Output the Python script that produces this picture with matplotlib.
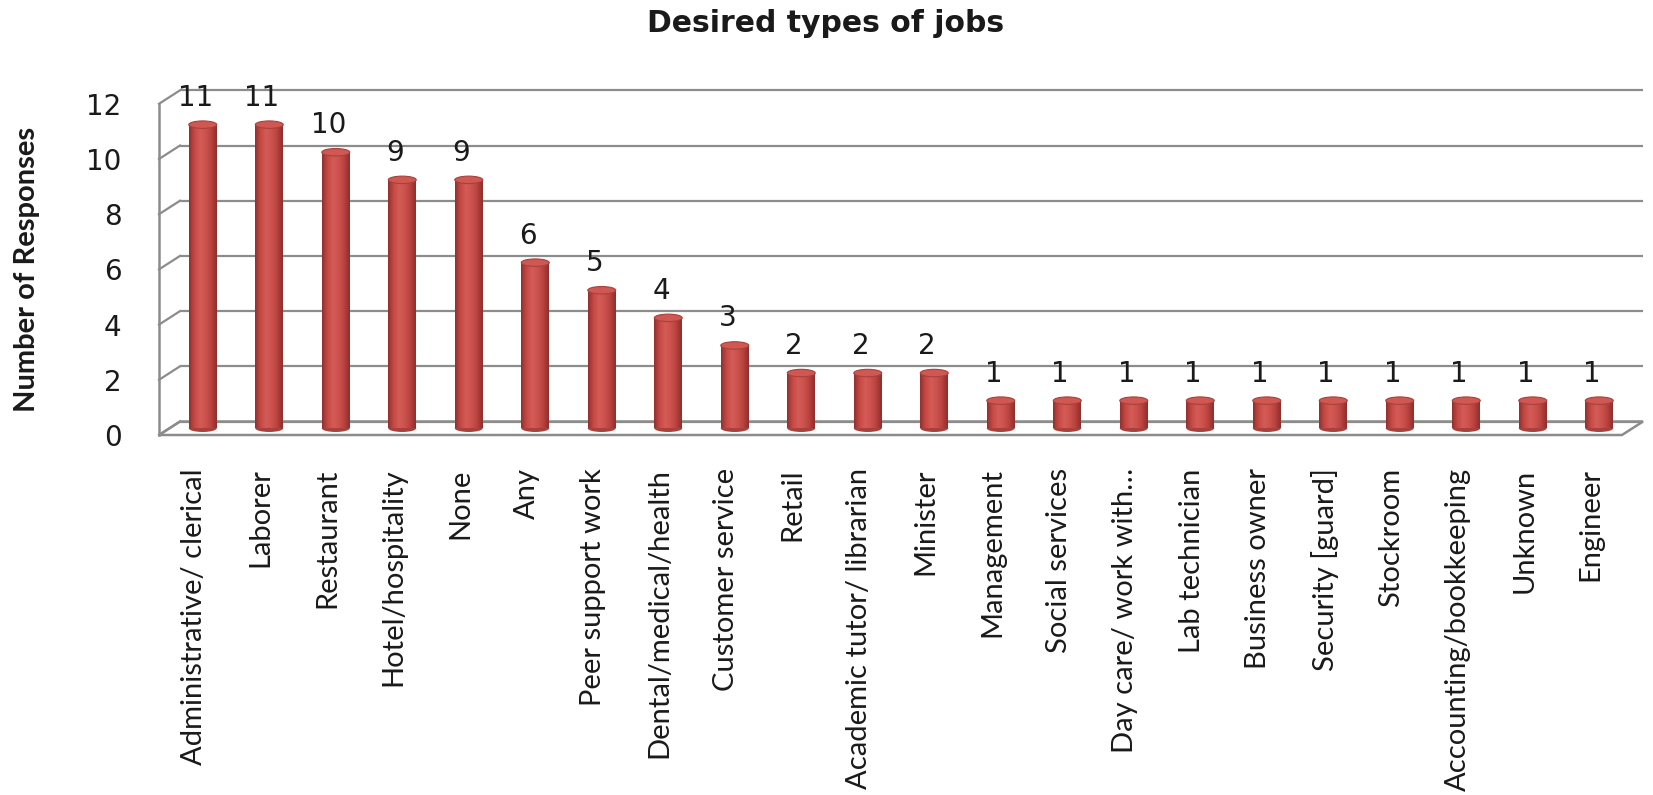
import matplotlib.pyplot as plt
import numpy as np
from matplotlib.colors import LinearSegmentedColormap
from matplotlib.patches import Ellipse, Polygon

# Data
jobs = ["Administrative/ clerical", "Laborer", "Restaurant", "Hotel/hospitality",
        "None", "Any", "Peer support work", "Dental/medical/health",
        "Customer service", "Retail", "Academic tutor/ librarian", "Minister",
        "Management", "Social services", "Day care/ work with\u2026",
        "Lab technician", "Business owner", "Security [guard]", "Stockroom",
        "Accounting/bookkeeping", "Unknown", "Engineer"]
responses = [11, 11, 10, 9, 9, 6, 5, 4, 3, 2, 2, 2, 1, 1, 1, 1, 1, 1, 1, 1, 1, 1]
y_ticks = [0, 2, 4, 6, 8, 10, 12]

W, H = 1653, 795
fig = plt.figure(figsize=(W / 100, H / 100), dpi=100)
# front plane of the 3-D box, in pixels
left, right, bottom, top = 159, 1622, 435, 103.8
ax = fig.add_axes([left / W, 1 - bottom / H, (right - left) / W, (bottom - top) / H])

n = len(jobs)
xmin, xmax = -0.5, n - 0.5
ymax = 12
ddx, ddy = 0.316, 0.489        # depth offset of the back wall (data units)
grid_col = "#8c8c8c"

# floor
floor = Polygon([(xmin, 0), (xmax, 0), (xmax + ddx, ddy), (xmin + ddx, ddy)],
                closed=True, facecolor="white", edgecolor=grid_col, lw=1.8,
                zorder=1, clip_on=False)
ax.add_patch(floor)

# back wall gridlines and left wall
for k in y_ticks:
    ax.plot([xmin + ddx, xmax + ddx], [k + ddy, k + ddy], color=grid_col,
            lw=1.6, zorder=1, clip_on=False, solid_capstyle="butt")
    ax.plot([xmin, xmin + ddx], [k, k + ddy], color=grid_col, lw=1.6,
            zorder=1, clip_on=False)
ax.plot([xmin, xmin], [0, ymax], color=grid_col, lw=1.8, zorder=1, clip_on=False)

# cylinders
cyl = LinearSegmentedColormap.from_list(
    "cyl", ["#93302d", "#c64a46", "#d45b57", "#cc524e", "#b8423f", "#8e2e2b"])
grad = np.linspace(0, 1, 64).reshape(1, -1)
bar_w = 0.42
ell_h = 0.27
for i, v in enumerate(responses):
    cx = i + ddx / 2
    base = ddy / 2
    tip = v + ddy / 2
    ax.add_patch(Ellipse((cx, base), bar_w, ell_h, facecolor="#a8403c",
                         edgecolor="none", zorder=2.9))
    ax.imshow(grad, extent=(cx - bar_w / 2, cx + bar_w / 2, base, tip),
              aspect="auto", cmap=cyl, zorder=3, interpolation="bilinear")
    ax.add_patch(Ellipse((cx, tip), bar_w, ell_h, facecolor="#cf5853",
                         edgecolor="#a8403c", lw=0.8, zorder=4))
    ax.annotate(str(v), (i + 0.05, tip), xytext=(0, 19.5), textcoords="offset points",
                ha="center", va="center", fontsize=20, color="#1a1a1a",
                family="DejaVu Sans")

ax.set_xlim(xmin, xmax)
ax.set_ylim(0, ymax)
for s in ax.spines.values():
    s.set_visible(False)
ax.set_facecolor("none")

ax.set_yticks(y_ticks)
ax.set_yticklabels([str(t) for t in y_ticks], fontsize=20, color="#1a1a1a",
                   family="DejaVu Sans")
ax.tick_params(axis="y", length=0, pad=27)

ax.set_xticks(np.arange(n) + 0.03)
ax.set_xticklabels(jobs, rotation=90, fontsize=21, color="#1a1a1a", family="Lato")
ax.tick_params(axis="x", length=0, pad=24)

fig.text(27.5 / W, 1 - 269 / H, "Number of Responses", rotation=90,
         ha="center", va="center", fontsize=21, fontweight="bold",
         family="Lato", color="#1a1a1a")
fig.text(826 / W, 1 - 24 / H, "Desired types of jobs", ha="center", va="center",
         fontsize=21.5, fontweight="bold", family="DejaVu Sans", color="#1a1a1a")

fig.savefig("out.png", dpi=100, facecolor="white")
